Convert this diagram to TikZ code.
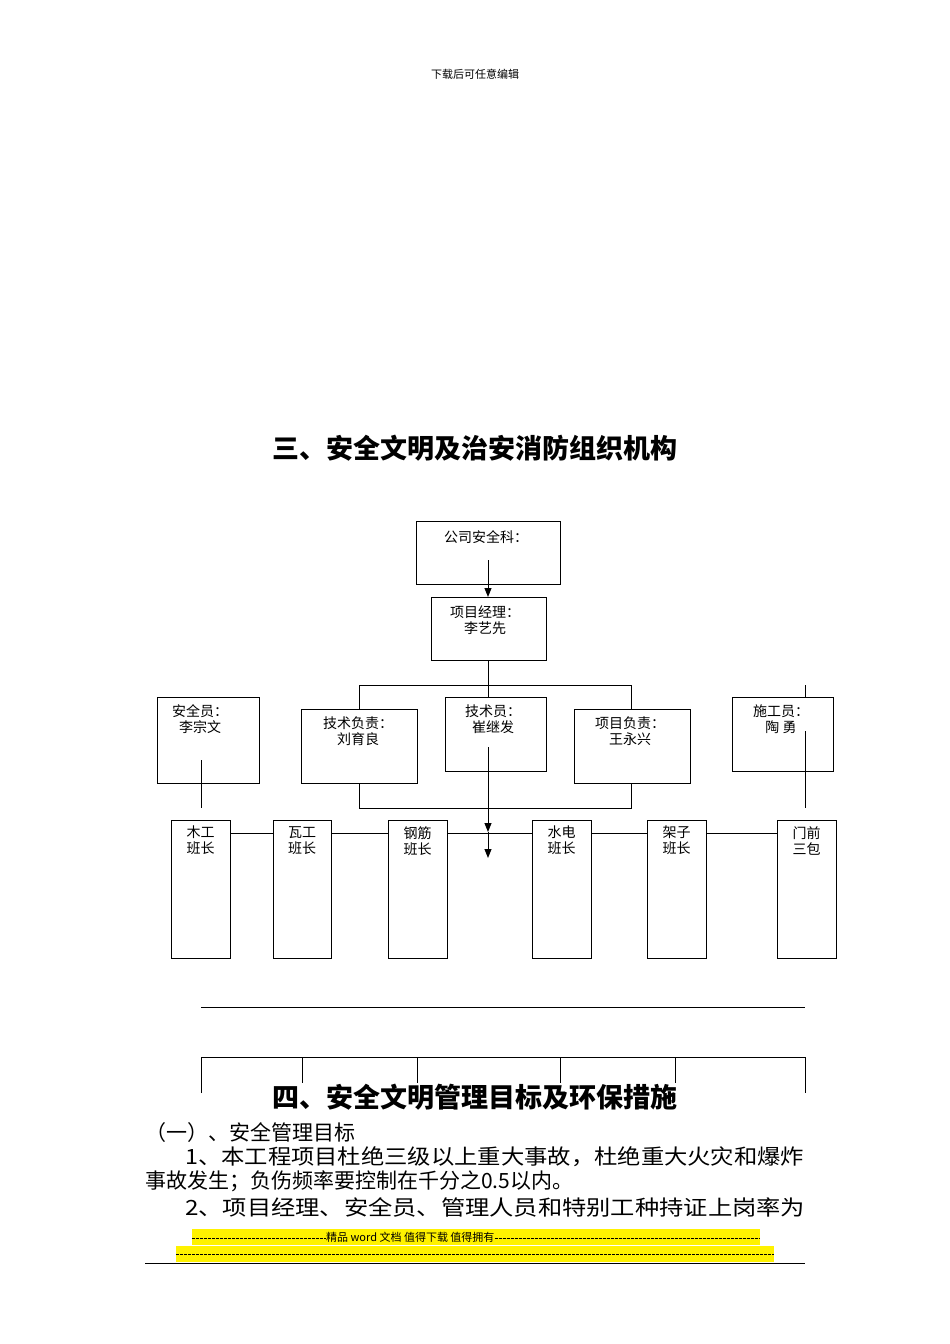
\documentclass[tikz,border=0pt]{standalone}
\usepackage{fontspec}
\setmainfont{Liberation Serif}
\newfontfamily\cjk{Noto Sans CJK SC}
\usetikzlibrary{arrows.meta}
\tikzset{
 x=1pt,y=-1pt,
 bx/.style={draw,line width=1pt},
 lbl/.style={font=\cjk\fontsize{14}{16}\selectfont,align=center,inner sep=0pt},
 ln/.style={line width=1pt},
 arr/.style={ln,-{Triangle[length=9pt,width=7pt]}},
 body/.style={font=\cjk\fontsize{21}{24}\selectfont,anchor=west,inner sep=0pt},
 dsh/.style={line width=0.5pt,dash pattern=on 3pt off 1pt}
}
\begin{document}
\begin{tikzpicture}
\useasboundingbox[fill=white] (0,0) rectangle (950,1344);
\node[font=\cjk\fontsize{11}{13}\selectfont] (hdr) at (475,74) {下载后可任意编辑};
\node[font=\cjk\bfseries\fontsize{27}{30}\selectfont] (t3) at (475,448) {三、安全文明及治安消防组织机构};
% top boxes
\draw[bx] (416,521) rectangle (560,584);
\node[lbl] (gs) at (486,537) {公司安全科：};
\draw[bx] (431,597) rectangle (546,660);
\node[lbl] (pm) at (485,620) {项目经理：\\李艺先};
\coordinate (gsb) at (488,560); \coordinate (pmt) at (488,597);
\draw[arr] (gsb) -- (pmt);
\coordinate (pmb) at (488,660); \coordinate (bt) at (488,685);
\draw[ln] (pmb) -- (bt);
\draw[ln] (359,709) -- (359,685) -- (631,685) -- (631,709);
\draw[ln] (488,685) -- (488,697);
\draw[ln] (359,783) -- (359,808) -- (631,808) -- (631,783);
% middle boxes
\draw[bx] (157,697) rectangle (259,783);
\node[lbl] (aq) at (200,719) {安全员：\\李宗文};
\draw[bx] (301,709) rectangle (417,783);
\node[lbl] (js) at (358,731) {技术负责：\\刘育良};
\draw[bx] (445,697) rectangle (546,771);
\node[lbl] (jy) at (493,719) {技术员：\\崔继发};
\draw[bx] (574,709) rectangle (690,783);
\node[lbl] (xm) at (630,731) {项目负责：\\王永兴};
\draw[bx] (732,697) rectangle (833,771);
\node[lbl] (sg) at (781,719) {施工员：\\陶 勇};
\draw[ln] (805,685) -- (805,697);
\draw[ln] (805,731) -- (805,808);
\draw[ln] (201,760) -- (201,808);
\coordinate (jyl) at (488,747); \coordinate (a1) at (488,832); \coordinate (a2) at (488,858);
\draw[arr] (jyl) -- (a1);
\draw[arr] (a1) -- (a2);
\draw[ln] (230,833) -- (273,833) (331,833) -- (388,833) (447,833) -- (532,833) (591,833) -- (647,833) (706,833) -- (777,833);
\foreach \a/\b/\t in {171/230/木工\\班长, 273/331/瓦工\\班长, 388/447/钢筋\\班长, 532/591/水电\\班长, 647/706/架子\\班长, 777/836/门前\\三包}{
  \draw[bx] (\a,820) rectangle (\b,958);
  \node[lbl,anchor=north] at ({(\a+\b)/2},826) {\t};
}
\draw[ln] (201,1007) -- (805,1007);
\draw[ln] (201,1093) -- (201,1057) -- (805,1057) -- (805,1093);
\foreach \x in {302,417,560,675} \draw[ln] (\x,1057) -- (\x,1093);
\node[font=\cjk\bfseries\fontsize{27}{30}\selectfont,fill=white,inner sep=1pt] (t4) at (475,1097) {四、安全文明管理目标及环保措施};
\node[body] (b1) at (145,1133) {（一）、安全管理目标};
\node[body] (b2) at (185,1157) {\scalebox{1.11}[1]{1、本工程项目杜绝三级以上重大事故，杜绝重大火灾和爆炸}};
\node[body] (b3) at (145,1181) {事故发生；负伤频率要控制在千分之0.5以内。};
\node[body] (b4) at (185,1207) {\scalebox{1.155}[1]{2、项目经理、安全员、管理人员和特别工种持证上岗率为}};
\fill[yellow] (192,1229) rectangle (760,1245);
\fill[yellow] (176,1246) rectangle (774,1262);
\node[font=\cjk\fontsize{11}{12}\selectfont,inner sep=0pt,anchor=west] (y1) at (326,1237) {精品 word 文档 值得下载 值得拥有};
\coordinate (d1a) at (192,1238); \coordinate (d2a) at (760,1238);
\draw[dsh] (d1a) -- (y1.west |- d1a) (y1.east |- d1a) -- (d2a);
\coordinate (d3a) at (176,1254); \coordinate (d3b) at (774,1254);
\draw[dsh] (d3a) -- (d3b);
\draw[line width=0.8pt] (145,1263) -- (805,1263);
\end{tikzpicture}
\end{document}
